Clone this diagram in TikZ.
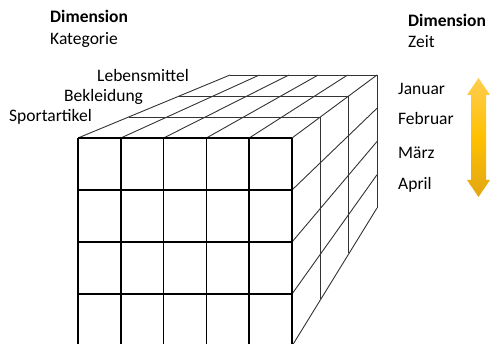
\documentclass[tikz,border=0pt]{standalone}
\usepackage{fontspec}
\setmainfont{Carlito}
\definecolor{goldlight}{RGB}{255,205,80}
\definecolor{goldmid}{RGB}{255,192,0}
\definecolor{golddark}{RGB}{226,166,20}
\tikzset{
  label text/.style={anchor=base west, inner sep=0pt, font=\fontsize{17.5}{20}\selectfont},
  dim text/.style={label text, font=\fontsize{17.5}{20}\selectfont\bfseries},
  front grid/.style={line width=1.6pt, black},
  cube line/.style={line width=0.9pt, black!80}
}
\begin{document}
\begin{tikzpicture}[x=1pt, y=-1pt]
                    \useasboundingbox (0,0) rectangle (490,344);
                    \clip (0,0) rectangle (490,344);
                    % top face
                    \draw[cube line] (78,138) -- (230,75);
                    \draw[cube line] (120.8,138) -- (259.4,75);
                    \draw[cube line] (163.6,138) -- (288.8,75);
                    \draw[cube line] (206.4,138) -- (318.2,75);
                    \draw[cube line] (249.2,138) -- (347.6,75);
                    \draw[cube line] (292,138) -- (377,75);
                    \draw[cube line] (128.7,117) -- (320.3,117);
                    \draw[cube line] (179.3,96) -- (348.7,96);
                    \draw[cube line] (230,75) -- (377,75);
                    % right face
                    \draw[cube line] (320.3,117) -- (320.3,298.7);
                    \draw[cube line] (348.7,96) -- (348.7,253.3);
                    \draw[cube line] (377,75) -- (377,208);
                    \draw[cube line] (292,190) -- (377,108.25);
                    \draw[cube line] (292,242) -- (377,141.5);
                    \draw[cube line] (292,294) -- (377,174.75);
                    \draw[cube line] (292,346) -- (377,208);
                    % front face
                    \draw[front grid] (78,138) -- (78,346);
                    \draw[front grid] (120.8,138) -- (120.8,346);
                    \draw[front grid] (163.6,138) -- (163.6,346);
                    \draw[front grid] (206.4,138) -- (206.4,346);
                    \draw[front grid] (249.2,138) -- (249.2,346);
                    \draw[front grid] (292,138) -- (292,346);
                    \draw[front grid] (78,138) -- (292,138);
                    \draw[front grid] (78,190) -- (292,190);
                    \draw[front grid] (78,242) -- (292,242);
                    \draw[front grid] (78,294) -- (292,294);
                    % labels
                    \node[dim text] (dimkat) at (50,23) {Dimension};
                    \node[label text] (kat) at (50,45) {Kategorie};
                    \node[label text] (leben) at (97,82) {Lebensmittel};
                    \node[label text] (bekl) at (64,102) {Bekleidung};
                    \node[label text] (sport) at (9,122) {Sportartikel};
                    \node[dim text] (dimzeit) at (408,27) {Dimension};
                    \node[label text] (zeit) at (408,48) {Zeit};
                    \node[label text] (jan) at (398,95) {Januar};
                    \node[label text] (feb) at (398,125) {Februar};
                    \node[label text] (maerz) at (398,159) {März};
                    \node[label text] (apr) at (398,190) {April};
                    % time arrow
                    \shade[top color=goldlight, bottom color=golddark, middle color=goldmid]
                      (478.5,78) -- (490,95) -- (486,95) -- (486,180) -- (490,180)
                      -- (478.5,197) -- (467,180) -- (471,180) -- (471,95) -- (467,95) -- cycle;
                \end{tikzpicture}
\end{document}
